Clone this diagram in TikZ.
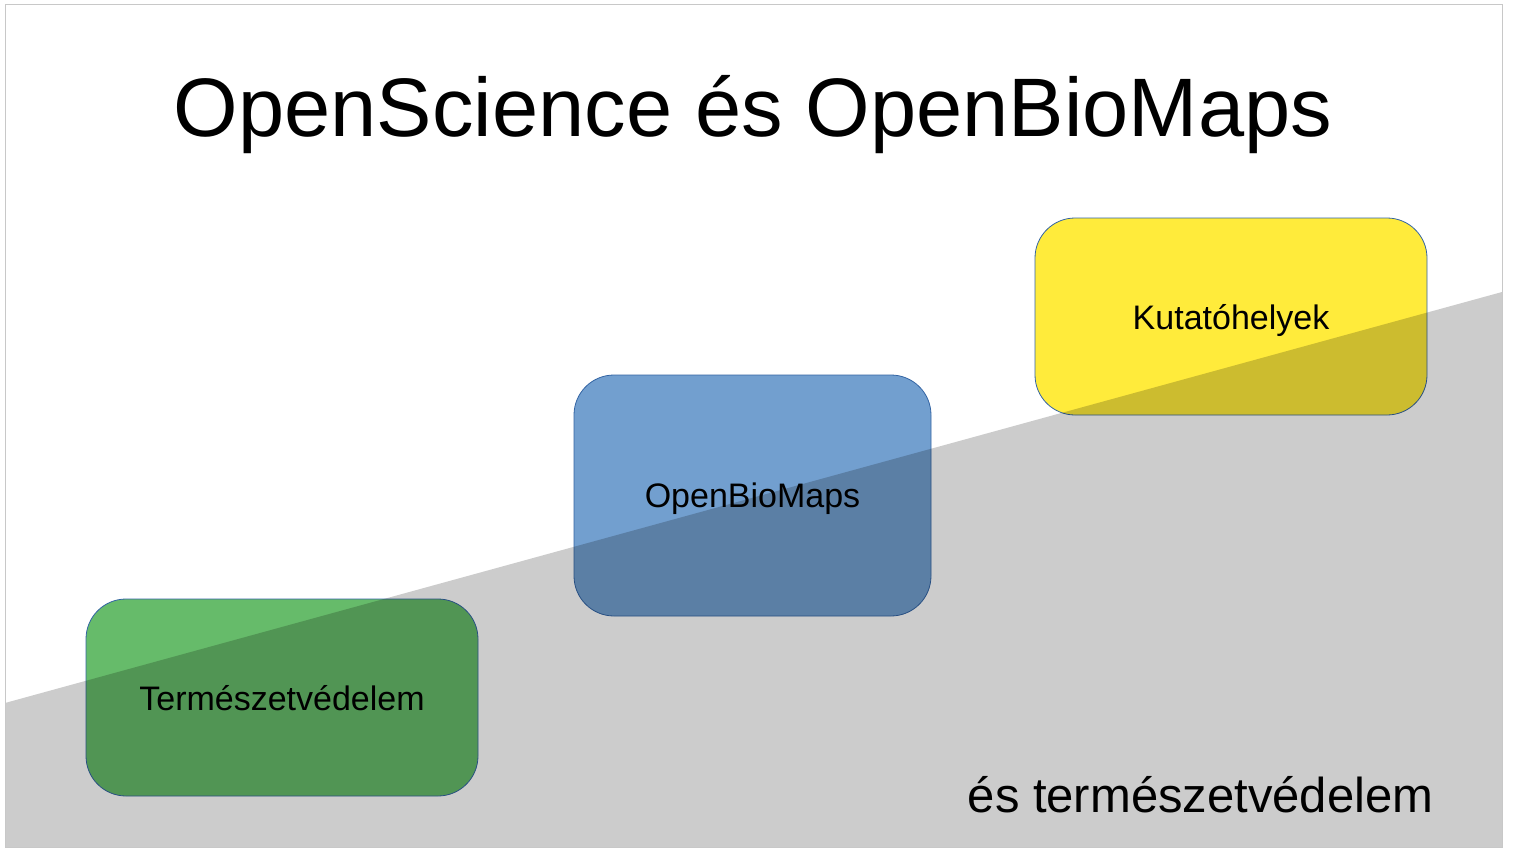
\documentclass[tikz,border=0pt]{standalone}
\usepackage{fontspec}
\setmainfont{Liberation Sans}
\usepackage{tikz}
\usetikzlibrary{positioning}
\usepackage{xcolor}
\definecolor{boxline}{RGB}{52,101,164}
\definecolor{leafgreen}{RGB}{102,187,106}
\definecolor{skyblue}{RGB}{114,159,207}
\definecolor{sunyellow}{RGB}{255,235,59}
\definecolor{frame}{RGB}{200,200,200}

\begin{document}
\begin{tikzpicture}[x=1pt, y=-1pt,
  stage/.style={draw=boxline, line width=0.8pt, rounded corners=40pt, text depth=0pt, font=\fontsize{34}{41}\selectfont}]
  \useasboundingbox (0,0) rectangle (1513,848);
  \fill[white] (0,0) rectangle (1513,848);
  % Title
  \node[anchor=base, font=\fontsize{83}{99}\selectfont] (title) at (753,137) {OpenScience és OpenBioMaps};
  % Steps
  \node[stage, fill=leafgreen, minimum width=392pt, minimum height=197pt] (nature) at (282,697.5) {Természetvédelem};
  \node[stage, fill=skyblue, minimum width=357pt, minimum height=241pt] (obm) at (752.5,495.5) {OpenBioMaps};
  \node[stage, fill=sunyellow, minimum width=392pt, minimum height=197pt] (research) at (1231,316.5) {Kutatóhelyek};
  % Rising shade
  \fill[black, fill opacity=0.2] (5,703) -- (1502,292) -- (1502,847) -- (5,847) -- cycle;
  \node[anchor=base east, font=\fontsize{49}{59}\selectfont] (tagline) at (1437,812) {és természetvédelem};
  % Slide frame
  \draw[frame, line width=1pt] (5,5) rectangle (1502,847);
\end{tikzpicture}
\end{document}
